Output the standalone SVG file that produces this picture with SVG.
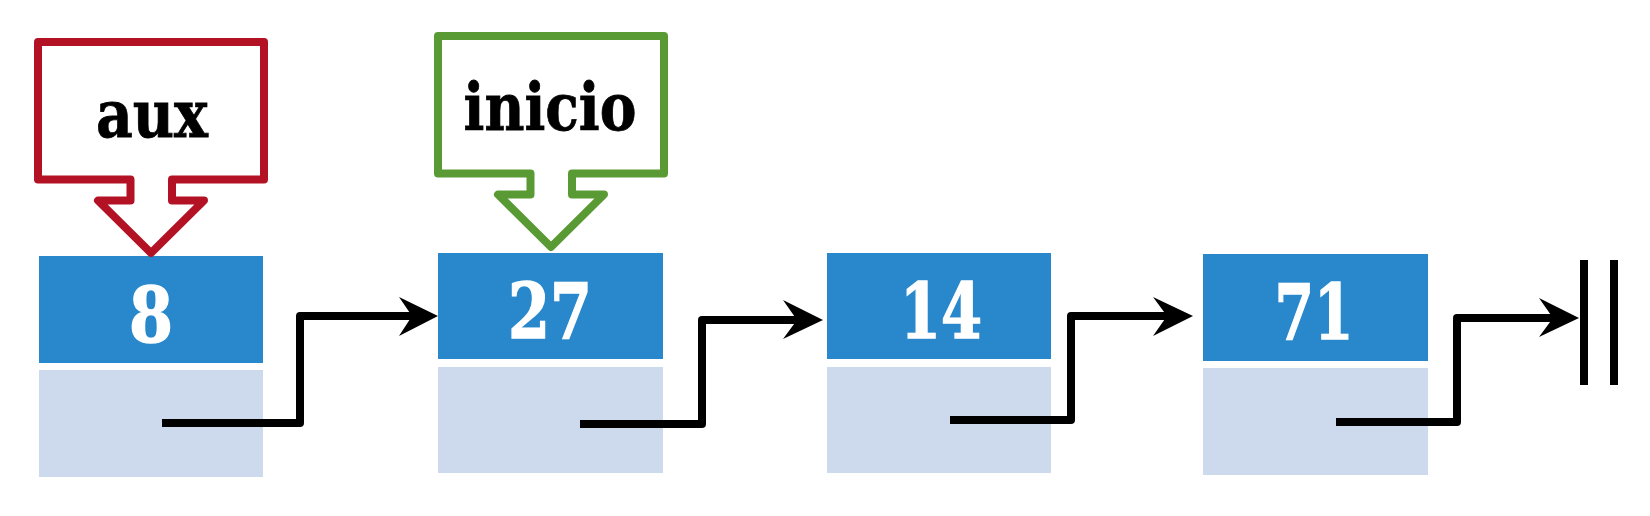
<svg xmlns="http://www.w3.org/2000/svg" width="1650" height="516" viewBox="0 0 1650 516">
<defs>
<style>
.data{fill:#2988CB}
.next{fill:#CDD9EC}
.num{font-family:"DejaVu Serif","Liberation Serif",serif;font-weight:bold;font-size:77px;fill:#FFFFFF;stroke:#FFFFFF;stroke-width:1.5;text-anchor:middle}
.lbl{font-family:"DejaVu Serif","Liberation Serif",serif;font-weight:bold;font-size:65px;fill:#000000;stroke:#000000;stroke-width:0.8;text-anchor:middle}
.wire{fill:none;stroke:#000000;stroke-width:8;stroke-linejoin:round}
.head{fill:#000000}
.callout{fill:#FFFFFF;stroke-width:8;stroke-linejoin:round}
</style>
<path id="callshape" d="M38,42 H264 V179.5 H172 V200.5 H204 L151,253 L98,200.5 H130.5 V179.5 H38 Z"/>
</defs>
<rect width="1650" height="516" fill="#FFFFFF"/>

<g id="node-8">
<rect class="data" x="39" y="256" width="224" height="107"/>
<rect class="next" x="39" y="370" width="224" height="107"/>
<text class="num" x="151" y="342" textLength="44" lengthAdjust="spacingAndGlyphs">8</text>
</g>

<g id="node-27">
<rect class="data" x="438" y="253" width="225" height="106"/>
<rect class="next" x="438" y="367" width="225" height="106"/>
<text class="num" x="550" y="338" textLength="84" lengthAdjust="spacingAndGlyphs">27</text>
</g>

<g id="node-14">
<rect class="data" x="827" y="253" width="224" height="106"/>
<rect class="next" x="827" y="367" width="224" height="106"/>
<text class="num" x="941" y="338" textLength="82" lengthAdjust="spacingAndGlyphs">14</text>
</g>

<g id="node-71">
<rect class="data" x="1203" y="254" width="225" height="107"/>
<rect class="next" x="1203" y="368" width="225" height="107"/>
<text class="num" x="1314" y="339" textLength="79" lengthAdjust="spacingAndGlyphs">71</text>
</g>

<g id="pointer-aux">
<use href="#callshape" class="callout" stroke="#B31224"/>
<text class="lbl" x="152" y="137" textLength="112" lengthAdjust="spacingAndGlyphs">aux</text>
</g>

<g id="pointer-inicio">
<use href="#callshape" class="callout" stroke="#5A9A35" transform="translate(400,-6)"/>
<text class="lbl" x="550" y="130" textLength="173" lengthAdjust="spacingAndGlyphs">inicio</text>
</g>

<g id="null-terminator">
<line x1="1584" y1="260" x2="1584" y2="385" stroke="#000000" stroke-width="8"/>
<line x1="1614" y1="260" x2="1614" y2="385" stroke="#000000" stroke-width="8"/>
</g>

<g id="connectors">
<path class="wire" d="M162,423 H300 V316 H414"/>
<polygon class="head" points="438,316 399,297 412,316 399,336"/>
<path class="wire" d="M580,424 H702 V320 H799"/>
<polygon class="head" points="823,320 783,300 797,320 783,339"/>
<path class="wire" d="M950,420 H1071 V316 H1169"/>
<polygon class="head" points="1193,316 1153,297 1167,316 1153,336"/>
<path class="wire" d="M1336,422 H1457 V318 H1555"/>
<polygon class="head" points="1579,318 1539,298 1553,318 1539,337"/>
</g>
</svg>
